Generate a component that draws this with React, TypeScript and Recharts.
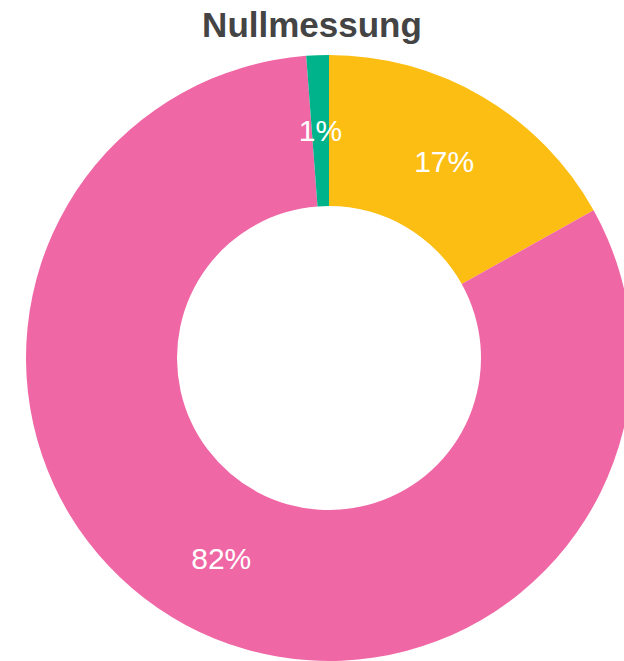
import React from "react";
import { PieChart, Pie, Cell } from "recharts";

const categories = ["Gelb", "Rosa", "Grün"];
const values = [16.9, 81.9, 1.2];
const colors = ["#FCBE12", "#F067A6", "#00B38A"];
const title = "Nullmessung";

const data = categories.map((name, i) => ({ name, value: values[i] }));
const total = values.reduce((a, b) => a + b, 0);
const RAD = Math.PI / 180;

const renderLabel = (props: any) => {
  const { cx, cy, midAngle, innerRadius, outerRadius, value } = props;
  const r = (innerRadius + outerRadius) / 2;
  const x = cx + r * Math.cos(-midAngle * RAD);
  const y = cy + r * Math.sin(-midAngle * RAD);
  return (
    <text
      x={x}
      y={y}
      fill="#ffffff"
      textAnchor="middle"
      dominantBaseline="central"
      fontFamily="'Liberation Sans', Arial, sans-serif"
      fontSize={30}
    >
      {`${Math.round((value / total) * 100)}%`}
    </text>
  );
};

export default function App() {
  return (
    <div style={{ position: "absolute", left: 0, top: 0, width: 624, height: 661, background: "#fff" }}>
      <div
        style={{
          position: "absolute",
          left: 0,
          top: 5,
          width: 624,
          textAlign: "center",
          fontFamily: "'Liberation Sans', Arial, sans-serif",
          fontWeight: "bold",
          fontSize: 35,
          color: "#444444",
          lineHeight: "normal",
          zIndex: 2,
        }}
      >
        {title}
      </div>
      <PieChart width={624} height={661} margin={{ top: 0, right: 0, bottom: 0, left: 0 }}>
        <Pie
          data={data}
          dataKey="value"
          nameKey="name"
          cx={329}
          cy={358}
          innerRadius={152}
          outerRadius={303}
          startAngle={90}
          endAngle={-270}
          stroke="none"
          label={renderLabel}
          labelLine={false}
          isAnimationActive={false}
        >
          {data.map((d, i) => (
            <Cell key={d.name} fill={colors[i]} />
          ))}
        </Pie>
      </PieChart>
    </div>
  );
}
